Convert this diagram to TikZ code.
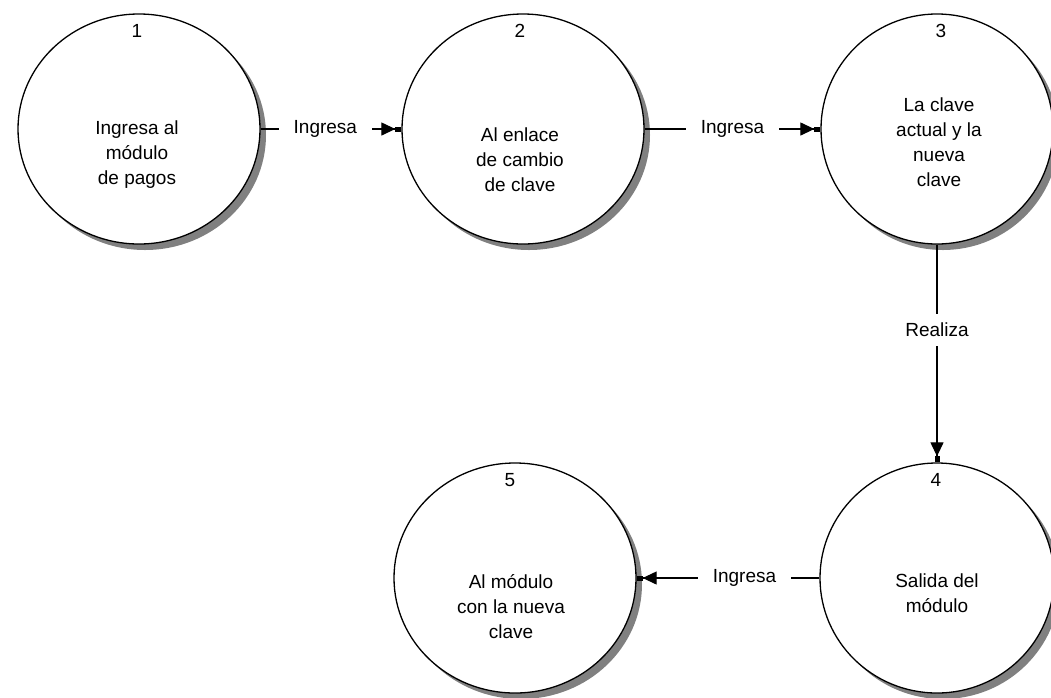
\documentclass[tikz,border=0pt]{standalone}
\usepackage{fontspec}
\setmainfont{Liberation Sans}
\usetikzlibrary{positioning,arrows.meta,shapes.geometric,shadows,calc}

\begin{document}
\begin{tikzpicture}[
    x=1pt, y=1pt,
    font=\fontsize{19}{25}\selectfont,
    bubble/.style={
        ellipse,
        draw=black,
        fill=white,
        line width=1.3pt,
        minimum width=242pt,
        minimum height=230pt,
        inner sep=0pt,
        drop shadow={shadow xshift=6pt, shadow yshift=-6pt, fill=black!50, opacity=1}
    },
    desc/.style={
        align=center,
        inner sep=1pt
    },
    idx/.style={
        inner sep=1pt
    },
    flow/.style={
        -{Triangle[length=14pt,width=13pt,sep=0pt]Rectangle[length=6pt,width=5pt,sep=0pt]},
        line width=1.2pt,
        draw=black
    },
    tag/.style={
        fill=white,
        inner xsep=15pt,
        inner ysep=9pt
    }
]

\useasboundingbox (0,0) rectangle (1051,-697);

% Processes
\node[bubble] (p1) at (139,-129) {};
\node[bubble] (p2) at (523,-129) {};
\node[bubble, minimum width=232pt] (p3) at (937,-129) {};
\node[bubble, minimum width=234pt] (p4) at (937,-578) {};
\node[bubble] (p5) at (515,-578) {};

% Numbers
\node[idx] (n1) at ($(p1.north)+(-2,-18)$) {1};
\node[idx] (n2) at ($(p2.north)+(-3,-18)$) {2};
\node[idx] (n3) at ($(p3.north)+(4,-18)$) {3};
\node[idx] (n4) at ($(p4.north)+(-1,-18)$) {4};
\node[idx] (n5) at ($(p5.north)+(-5,-18)$) {5};

% Descriptions
\node[desc] (t1) at ($(p1)+(-2,-26)$) {Ingresa al\\módulo\\de pagos};
\node[desc] (t2) at ($(p2)+(-3,-31)$) {Al enlace\\de cambio\\de clave};
\node[desc] (t3) at ($(p3)+(2,-13)$) {La clave\\actual y la\\nueva\\clave};
\node[desc] (t4) at ($(p4)+(0,-15)$) {Salida del\\módulo};
\node[desc] (t5) at ($(p5)+(-4,-29)$) {Al módulo\\con la nueva\\clave};

% Flows
\draw[flow] (p1) -- node[tag, pos=0.46] (e12) {Ingresa} (p2);
\draw[flow] (p2) -- node[tag, pos=0.5] (e23) {Ingresa} (p3);
\draw[flow] (p3) -- node[tag, pos=0.39] (e34) {Realiza} (p4);
\draw[flow] (p4) -- node[tag, pos=0.41] (e45) {Ingresa} (p5);

\end{tikzpicture}
\end{document}
